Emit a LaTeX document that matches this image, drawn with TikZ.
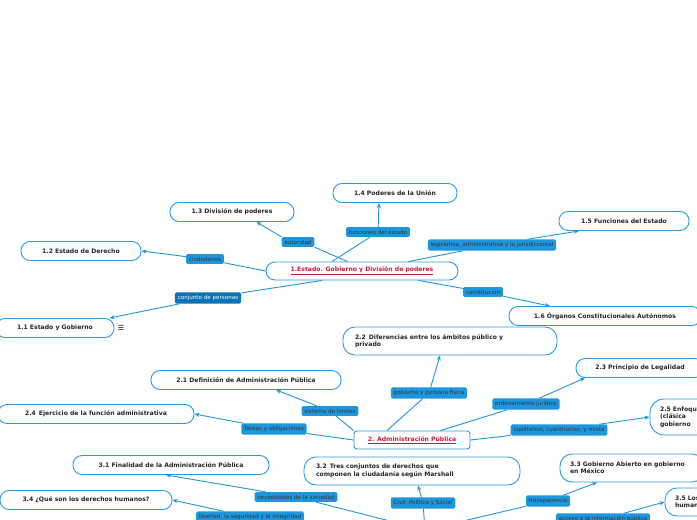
\documentclass[tikz,border=0pt]{standalone}
\usepackage{fontspec}
\setmainfont{DejaVu Sans}
\usetikzlibrary{arrows.meta}
\definecolor{lb}{HTML}{2A9BE0}
\definecolor{bb}{HTML}{1E96DE}
\definecolor{db}{HTML}{0A72B5}
\definecolor{rd}{HTML}{D0193E}
\begin{document}
\begin{tikzpicture}[x=1pt,y=-1pt,
 topic/.style={draw=lb,line width=0.9pt,rounded corners=9pt,fill=white,minimum height=19pt,font=\fontsize{6.1}{7.4}\selectfont\bfseries,text=black!85,align=left},
 root/.style={draw=lb,line width=0.9pt,rounded corners=3pt,fill=white,minimum height=18pt,font=\fontsize{6.1}{7.4}\selectfont\bfseries,text=rd},
 lab/.style={fill=bb,rounded corners=1.5pt,inner sep=2.8pt,font=\fontsize{5.6}{6.6}\selectfont,text=black!80},
 con/.style={draw=bb,line width=0.9pt},
 arr/.style={con,-{Stealth[length=5pt,width=4pt]}}]
\useasboundingbox (0,0) rectangle (697,520);
% topics
\node[root,rounded corners=9pt,minimum width=192pt] (r1) at (362,271) {\underline{1.Estado. Gobierno y División de poderes}};
\node[topic,minimum width=124pt] (t14) at (395,193) {1.4 Poderes de la Unión};
\node[topic,minimum width=124pt] (t13) at (232,212) {1.3 División de poderes};
\node[topic,minimum width=120pt] (t12) at (81,251) {1.2 Estado de Derecho};
\node[topic,minimum width=118pt] (t11) at (55,328) {1.1 Estado y Gobierno};
\node[font=\fontsize{7}{8}\selectfont] (menu) at (121,328) {\char"2630};
\node[topic,minimum width=130pt] (t15) at (624,221) {1.5 Funciones del Estado};
\node[topic,minimum width=192pt] (t16) at (605,316) {1.6 Órganos Constitucionales Autónomos};
\node[topic,minimum height=28pt,rounded corners=12pt,text width=190pt,inner xsep=12pt] (t22) at (450,341) {2.2\enspace Diferencias entre los ámbitos público y\\privado};
\node[topic,minimum width=128pt] (t23) at (640,368) {2.3 Principio de Legalidad};
\node[topic,minimum height=36pt,rounded corners=14pt,text width=60pt,inner xsep=10pt] (t25) at (690,417) {2.5 Enfoques\\(clásica\\gobierno};
\node[topic,minimum width=190pt] (t21) at (246,380) {2.1 Definición de Administración Pública};
\node[topic,minimum width=196pt] (t24) at (96,414) {2.4\enspace Ejercicio de la función administrativa};
\node[root,minimum width=116pt] (r2) at (412,440) {\underline{2. Administración Pública}};
\node[topic,minimum width=196pt] (t31) at (171,465) {3.1 Finalidad de la Administración Pública};
\node[topic,minimum height=28pt,rounded corners=12pt,text width=192pt,inner xsep=12pt] (t32) at (412,471) {3.2\enspace Tres conjuntos de derechos que\\componen la ciudadanía según Marshall};
\node[topic,minimum height=28pt,rounded corners=12pt,text width=124pt,inner xsep=10pt] (t33) at (632,468) {3.3 Gobierno Abierto en gobierno\\en México};
\node[topic,minimum width=172pt] (t34) at (86,500) {3.4 ¿Qué son los derechos humanos?};
\node[topic,minimum height=28pt,rounded corners=12pt,text width=30pt,inner xsep=10pt] (t35) at (690,502) {3.5 Los\\humanos};
\coordinate (r3) at (425,530);
% connectors 1
\node[lab] (l1) at (298,242) {autoridad};
\draw[con] ([xshift=82pt]r1.north west) -- (l1.south east); \draw[arr] (l1.north west) -- ([xshift=-38pt]t13.south east);
\node[lab] (l2) at (378,232) {funciones del estado};
\draw[con] ([xshift=-30pt]r1.north) -- (l2); \draw[arr] (l2) -- ([xshift=-16pt]t14.south);
\node[lab] (l3) at (492,245) {legislativa, administrativa y la jurisdiccional};
\draw[con] ([xshift=-50pt]r1.north east) -- (l3); \draw[arr] (l3) -- ([xshift=-45pt]t15.south);
\node[lab] (l4) at (205,259) {ciudadanos};
\draw[con] (r1.west) -- (l4); \draw[arr] (l4) -- (t12.east);
\node[lab,fill=db,text=white] (l5) at (208,298) {conjunto de personas};
\draw[con] ([xshift=-40pt]r1.south) -- (l5); \draw[arr] (l5) -- ([xshift=-5pt]t11.north east);
\node[lab] (l6) at (483,292) {constitucion};
\draw[con] ([xshift=-40pt]r1.south east) -- (l6); \draw[arr] (l6) -- ([xshift=-55pt]t16.north);
% connectors 2
\node[lab] (m1) at (429,393) {gobierno y persona fisica};
\draw[con] ([xshift=-25pt]r2.north) -- (m1); \draw[arr] (m1) -- ([xshift=-10pt]t22.south);
\node[lab] (m2) at (330,411) {sistema de limites};
\draw[con] (r2.north west) -- (m2); \draw[arr] (m2) -- ([xshift=30pt]t21.south);
\node[lab] (m3) at (526,404) {ordenamiento jurídico};
\draw[con] ([xshift=-30pt]r2.north east) -- (m3); \draw[arr] (m3) -- ([xshift=-55pt]t23.south);
\node[lab] (m4) at (274,429) {Tareas y obligaciones};
\draw[con] (r2.west) -- (m4); \draw[arr] (m4) -- (t24.east);
\node[lab] (m5) at (559,430) {cualitativo, cuantitativo, y mixto};
\draw[con] (r2.east) -- (m5); \draw[arr] (m5) -- (t25.west);
% connectors 3
\node[lab] (n1) at (296,497) {necesidades de la sociedad};
\draw[con] (r3) -- (n1); \draw[arr] (n1) -- ([xshift=-5pt]t31.south);
\node[lab] (n2) at (250,517) {libertad, la seguridad y la integridad};
\draw[con] (r3) -- (n2); \draw[arr] (n2) -- (t34.east);
\node[lab] (n3) at (423,503) {Civil, Politico y Social};
\draw[con] (r3) -- (n3); \draw[arr] (n3) -- ([xshift=6pt]t32.south);
\node[lab] (n4) at (548,501) {transparencia};
\draw[con] (r3) -- (n4); \draw[arr] (n4) -- ([xshift=-35pt]t33.south);
\node[lab] (n5) at (603,519) {acceso a la información pública};
\draw[arr] (n5) -- (t35.west);
\end{tikzpicture}
\end{document}
